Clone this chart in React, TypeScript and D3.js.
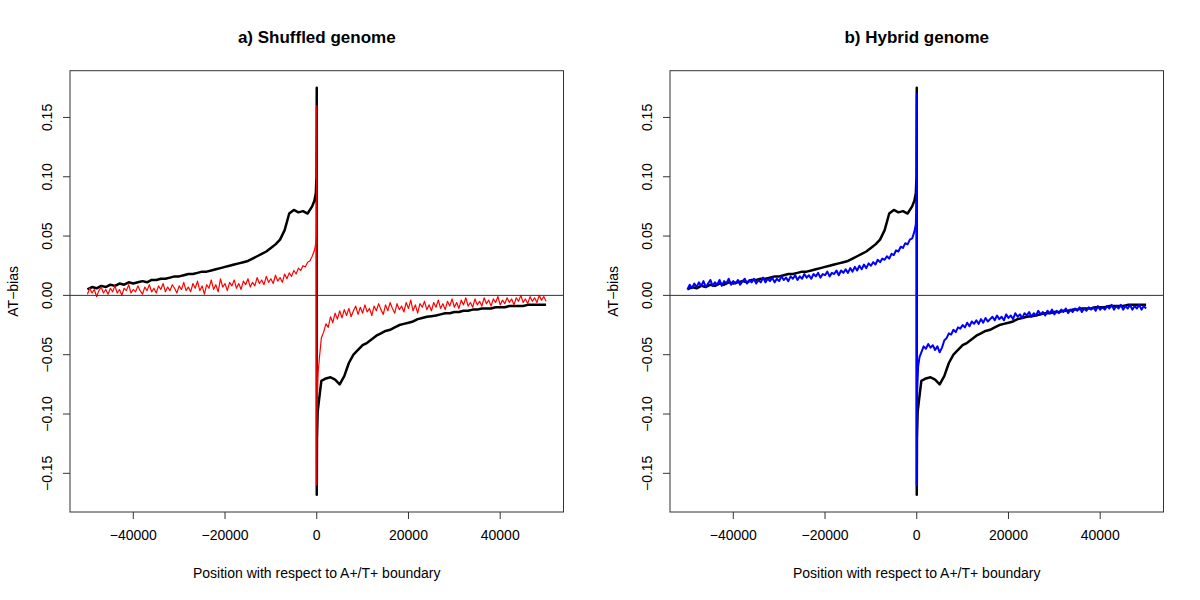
import React from "react";
import * as d3 from "d3";

// ---------- data (AT-bias vs position relative to A+/T+ boundary) ----------
const panelTitles = ["a) Shuffled genome", "b) Hybrid genome"];
const xTicks = [-40000, -20000, 0, 20000, 40000];
const yTicks = [-0.15, -0.1, -0.05, 0, 0.05, 0.1, 0.15];
const xLabel = "Position with respect to A+/T+ boundary";
const yLabel = "AT\u2212bias";

// Black series (real genome), sampled every 1000 bp
const blackLeftStart = -50000;
const blackStep = 1000;
const blackLeft = [
  0.005, 0.007, 0.006, 0.008, 0.007, 0.009, 0.008, 0.010, 0.009, 0.011,
  0.010, 0.011, 0.012, 0.011, 0.013, 0.013, 0.014, 0.014, 0.015, 0.016,
  0.016, 0.017, 0.018, 0.018, 0.019, 0.020, 0.020, 0.021, 0.022, 0.023,
  0.024, 0.025, 0.026, 0.027, 0.028, 0.029, 0.031, 0.033, 0.035, 0.037,
  0.040, 0.043, 0.047, 0.055, 0.069, 0.072, 0.070, 0.071, 0.069, 0.075,
];
const blackCenterPos = [-500, -200, -50, 0, 0, 50, 200, 500];
const blackCenterVal = [0.080, 0.086, 0.100, 0.175, -0.168, -0.120, -0.098, -0.088];
const blackRightStart = 1000;
const blackRight = [
  -0.072, -0.070, -0.069, -0.071, -0.075, -0.068, -0.057, -0.050, -0.046, -0.042,
  -0.040, -0.037, -0.034, -0.032, -0.030, -0.029, -0.027, -0.025, -0.024, -0.023,
  -0.022, -0.020, -0.019, -0.018, -0.0175, -0.017, -0.016, -0.015, -0.015, -0.014,
  -0.014, -0.013, -0.013, -0.012, -0.012, -0.011, -0.011, -0.011, -0.010, -0.010,
  -0.010, -0.009, -0.009, -0.009, -0.009, -0.008, -0.008, -0.008, -0.008, -0.008,
];

// Red series (shuffled genome), sampled every 500 bp
const fineStep = 500;
const redLeftStart = -50000;
const redLeft = [
  0.001, 0.006, 0.002, 0.005, -0.001, 0.004, 0.007, 0.002, 0.005, 0.001,
  0.006, 0.003, 0.008, 0.002, 0.005, 0.000, 0.006, 0.004, 0.009, 0.002,
  0.005, 0.003, 0.008, 0.004, 0.001, 0.007, 0.004, 0.009, 0.003, 0.006,
  0.002, 0.008, 0.005, 0.010, 0.003, 0.007, 0.004, 0.009, 0.006, 0.002,
  0.008, 0.005, 0.011, 0.004, 0.007, 0.003, 0.010, 0.006, 0.012, 0.004,
  0.008, 0.001, 0.009, 0.006, 0.013, 0.005, 0.009, 0.003, 0.014, 0.007,
  0.010, 0.004, 0.011, 0.008, 0.013, 0.006, 0.010, 0.005, 0.012, 0.009,
  0.014, 0.007, 0.011, 0.008, 0.015, 0.010, 0.013, 0.009, 0.016, 0.011,
  0.014, 0.010, 0.017, 0.012, 0.015, 0.011, 0.018, 0.014, 0.019, 0.016,
  0.021, 0.018, 0.023, 0.021, 0.025, 0.024, 0.028, 0.029, 0.033, 0.038,
];
const redCenterPos = [-300, -100, -20, 0, 0, 20, 100, 300, 600];
const redCenterVal = [0.042, 0.050, 0.070, 0.160, -0.160, -0.120, -0.090, -0.065, -0.052];
const redRightStart = 1000;
const redRight = [
  -0.036, -0.031, -0.024, -0.027, -0.018, -0.023, -0.015, -0.020, -0.013, -0.019,
  -0.012, -0.017, -0.011, -0.018, -0.013, -0.009, -0.016, -0.010, -0.015, -0.008,
  -0.014, -0.011, -0.017, -0.009, -0.013, -0.007, -0.012, -0.016, -0.008, -0.013,
  -0.006, -0.011, -0.015, -0.007, -0.012, -0.009, -0.014, -0.006, -0.011, -0.004,
  -0.013, -0.008, -0.015, -0.007, -0.010, -0.005, -0.012, -0.008, -0.013, -0.006,
  -0.010, -0.004, -0.011, -0.007, -0.012, -0.005, -0.009, -0.003, -0.010, -0.006,
  -0.011, -0.004, -0.008, -0.002, -0.009, -0.006, -0.010, -0.003, -0.008, -0.005,
  -0.009, -0.002, -0.007, -0.004, -0.009, -0.003, -0.006, -0.001, -0.008, -0.004,
  -0.007, -0.002, -0.006, -0.003, -0.008, -0.002, -0.005, 0.000, -0.006, -0.003,
  -0.007, -0.001, -0.005, -0.002, -0.006, 0.000, -0.004, -0.001, -0.005,
];

// Blue series (hybrid genome), sampled every 500 bp
const blueLeftStart = -50000;
const blueLeft = [
  0.005, 0.009, 0.006, 0.010, 0.007, 0.011, 0.008, 0.012, 0.007, 0.010,
  0.013, 0.008, 0.011, 0.009, 0.013, 0.008, 0.012, 0.010, 0.014, 0.009,
  0.012, 0.010, 0.013, 0.009, 0.012, 0.014, 0.010, 0.013, 0.011, 0.014,
  0.010, 0.013, 0.011, 0.015, 0.011, 0.014, 0.012, 0.015, 0.011, 0.014,
  0.012, 0.016, 0.013, 0.015, 0.012, 0.016, 0.014, 0.017, 0.013, 0.016,
  0.014, 0.018, 0.015, 0.017, 0.014, 0.018, 0.016, 0.019, 0.015, 0.018,
  0.017, 0.020, 0.016, 0.019, 0.018, 0.021, 0.017, 0.021, 0.019, 0.022,
  0.019, 0.023, 0.020, 0.024, 0.021, 0.025, 0.022, 0.026, 0.023, 0.027,
  0.025, 0.028, 0.026, 0.030, 0.028, 0.031, 0.030, 0.033, 0.031, 0.035,
  0.034, 0.038, 0.037, 0.041, 0.040, 0.044, 0.043, 0.047, 0.048, 0.054,
];
const blueCenterPos = [-200, -50, 0, 0, 30, 100, 300, 600];
const blueCenterVal = [0.060, 0.080, 0.170, -0.160, -0.110, -0.080, -0.060, -0.052];
const blueRightStart = 1000;
const blueRight = [
  -0.048, -0.043, -0.045, -0.041, -0.044, -0.042, -0.046, -0.043, -0.048, -0.044,
  -0.038, -0.036, -0.032, -0.033, -0.029, -0.031, -0.027, -0.028, -0.025, -0.027,
  -0.023, -0.026, -0.022, -0.024, -0.021, -0.024, -0.020, -0.023, -0.019, -0.022,
  -0.020, -0.018, -0.021, -0.017, -0.020, -0.018, -0.021, -0.016, -0.019, -0.017,
  -0.020, -0.015, -0.018, -0.016, -0.019, -0.015, -0.017, -0.014, -0.018, -0.015,
  -0.017, -0.013, -0.016, -0.014, -0.017, -0.013, -0.015, -0.012, -0.016, -0.013,
  -0.015, -0.012, -0.014, -0.011, -0.015, -0.012, -0.014, -0.011, -0.013, -0.010,
  -0.014, -0.011, -0.013, -0.010, -0.012, -0.010, -0.013, -0.009, -0.012, -0.010,
  -0.012, -0.009, -0.011, -0.008, -0.012, -0.009, -0.011, -0.008, -0.012, -0.009,
  -0.011, -0.008, -0.012, -0.009, -0.011, -0.008, -0.012, -0.009, -0.011,
];

type Pt = [number, number];

function buildSeries(
  leftStart: number, leftStep: number, left: number[],
  cPos: number[], cVal: number[],
  rightStart: number, rightStep: number, right: number[]
): Pt[] {
  const pts: Pt[] = [];
  left.forEach((v, i) => pts.push([leftStart + i * leftStep, v]));
  cPos.forEach((p, i) => pts.push([p, cVal[i]]));
  right.forEach((v, i) => pts.push([rightStart + i * rightStep, v]));
  return pts;
}

const blackSeries = buildSeries(blackLeftStart, blackStep, blackLeft, blackCenterPos, blackCenterVal, blackRightStart, blackStep, blackRight);
const redSeries = buildSeries(redLeftStart, fineStep, redLeft, redCenterPos, redCenterVal, redRightStart, fineStep, redRight);
const blueSeries = buildSeries(blueLeftStart, fineStep, blueLeft, blueCenterPos, blueCenterVal, blueRightStart, fineStep, blueRight);

const panels = [
  { title: panelTitles[0], overlay: redSeries, color: "#ff0000", width: 1.2, offset: 0 },
  { title: panelTitles[1], overlay: blueSeries, color: "#0000ff", width: 2.0, offset: 600 },
];

const FONT = "'Liberation Sans', Arial, Helvetica, sans-serif";

function fmtY(v: number) {
  const s = Math.abs(v).toFixed(2);
  return v < -1e-9 ? "\u2212" + s : s;
}
function fmtX(v: number) {
  return v < 0 ? "\u2212" + Math.abs(v) : String(v);
}

function Panel({ p }: { p: (typeof panels)[number] }) {
  const left = 70, right = 563.5, top = 70.7, bottom = 512;
  const x = d3.scaleLinear().domain([-53800, 53800]).range([left, right]);
  const y = d3.scaleLinear().domain([-0.1826, 0.1894]).range([bottom, top]);
  const line = d3.line<Pt>().x((d) => x(d[0])).y((d) => y(d[1]));
  const cx = (left + right) / 2;
  const cy = (top + bottom) / 2;
  return (
    <g transform={`translate(${p.offset},0)`}>
      <text x={x(0)} y={43} textAnchor="middle" fontFamily={FONT} fontWeight="bold" fontSize={17} fill="#000">
        {p.title}
      </text>
      <path d={line(blackSeries) || ""} fill="none" stroke="#000" strokeWidth={2.5} strokeLinejoin="round" />
      <path d={line(p.overlay) || ""} fill="none" stroke={p.color} strokeWidth={p.width} strokeLinejoin="round" />
      <line x1={left} x2={right} y1={y(0)} y2={y(0)} stroke="#333" strokeWidth={1} />
      <rect x={left} y={top} width={right - left} height={bottom - top} fill="none" stroke="#333" strokeWidth={1} />
      {xTicks.map((t) => (
        <g key={"x" + t}>
          <line x1={x(t)} x2={x(t)} y1={bottom} y2={bottom + 7} stroke="#333" strokeWidth={1} />
          <text x={x(t)} y={540} textAnchor="middle" fontFamily={FONT} fontSize={14} fill="#000">
            {fmtX(t)}
          </text>
        </g>
      ))}
      {yTicks.map((t) => (
        <g key={"y" + t}>
          <line x1={left - 7} x2={left} y1={y(t)} y2={y(t)} stroke="#333" strokeWidth={1} />
          <text
            transform={`translate(51.5,${y(t)}) rotate(-90)`}
            textAnchor="middle"
            fontFamily={FONT}
            fontSize={14}
            fill="#000"
          >
            {fmtY(t)}
          </text>
        </g>
      ))}
      <text x={cx} y={578} textAnchor="middle" fontFamily={FONT} fontSize={14} fill="#000">
        {xLabel}
      </text>
      <text transform={`translate(18,${cy}) rotate(-90)`} textAnchor="middle" fontFamily={FONT} fontSize={14} fill="#000">
        {yLabel}
      </text>
    </g>
  );
}

export default function App() {
  return (
    <svg
      width={1200}
      height={600}
      viewBox="0 0 1200 600"
      style={{ position: "absolute", left: 0, top: 0, background: "#fff" }}
    >
      <rect x={0} y={0} width={1200} height={600} fill="#fff" />
      {panels.map((p) => (
        <Panel key={p.title} p={p} />
      ))}
    </svg>
  );
}
